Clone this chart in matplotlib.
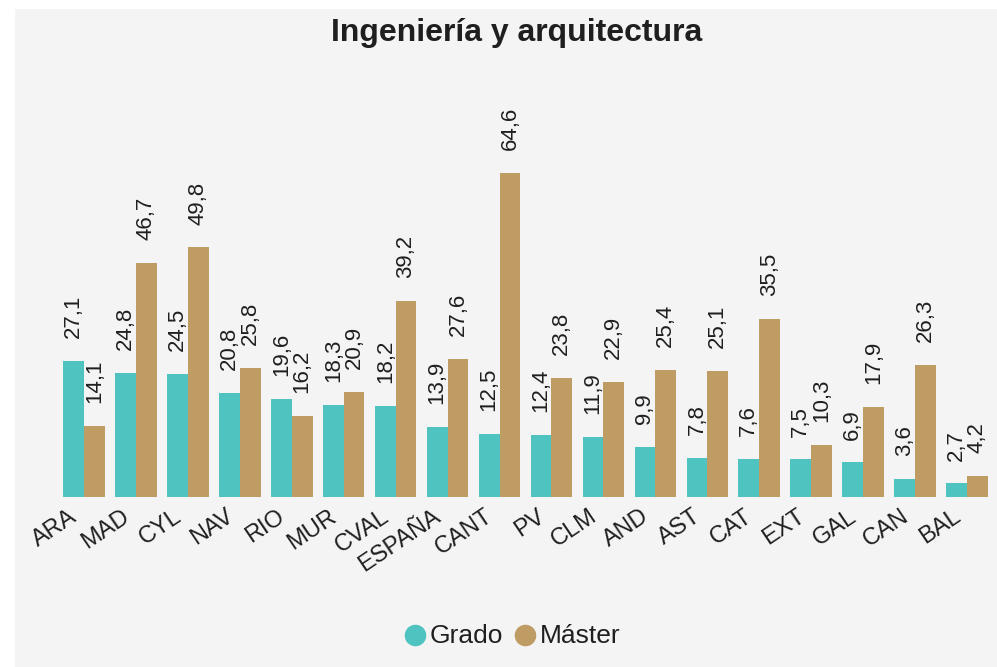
import matplotlib
matplotlib.use('Agg')
import matplotlib.pyplot as plt
import matplotlib.transforms as mtransforms
from matplotlib.patches import Rectangle
from matplotlib.lines import Line2D
import numpy as np

# data
regions = ['ARA', 'MAD', 'CYL', 'NAV', 'RIO', 'MUR', 'CVAL', 'ESPAÑA', 'CANT',
           'PV', 'CLM', 'AND', 'AST', 'CAT', 'EXT', 'GAL', 'CAN', 'BAL']
grado = [27.1, 24.8, 24.5, 20.8, 19.6, 18.3, 18.2, 13.9, 12.5,
         12.4, 11.9, 9.9, 7.8, 7.6, 7.5, 6.9, 3.6, 2.7]
master = [14.1, 46.7, 49.8, 25.8, 16.2, 20.9, 39.2, 27.6, 64.6,
          23.8, 22.9, 25.4, 25.1, 35.5, 10.3, 17.9, 26.3, 4.2]
series_names = ['Grado', 'Máster']

TEAL = '#4ec3bf'
TAN = '#be9c64'
BG = '#f4f4f4'
TXT = '#1f1f1f'

plt.rcParams['font.family'] = ['Liberation Sans', 'DejaVu Sans']

W, H = 997, 667


def fmt(v):
    return f"{v:.1f}".replace('.', ',')


def plot_chart():
    fig = plt.figure(figsize=(W / 100, H / 100), dpi=100)
    fig.patch.set_facecolor('white')
    # grey panel behind everything
    fig.add_artist(Rectangle((15 / W, 0), 1 - 15 / W, 1 - 9 / H,
                             transform=fig.transFigure, facecolor=BG,
                             edgecolor='none', zorder=-10))

    ax = fig.add_axes([58 / W, 170 / H, 935 / W, 437 / H])
    ax.set_facecolor('none')
    x = np.arange(len(regions))
    w = 0.4
    b1 = ax.bar(x - w / 2, grado, width=w, color=TEAL, linewidth=0)
    b2 = ax.bar(x + w / 2, master, width=w, color=TAN, linewidth=0)
    ax.set_xlim(-0.5, len(regions) - 0.5)
    ax.set_ylim(0, 437 / 5.011)

    for bars, vals in ((b1, grado), (b2, master)):
        for bar, v in zip(bars, vals):
            ax.annotate(fmt(v), (bar.get_x() + bar.get_width() / 2, v),
                        xytext=(0, 16.5), textcoords='offset points',
                        rotation=90, ha='center', va='bottom',
                        fontsize=16, color=TXT)

    ax.set_xticks(x)
    ax.set_xticklabels(regions, rotation=34, ha='right', rotation_mode='anchor',
                       fontsize=17, color=TXT)
    ax.tick_params(axis='x', length=0, pad=6)
    shift = mtransforms.ScaledTranslation(-0.15, 0, fig.dpi_scale_trans)
    for lab in ax.get_xticklabels():
        lab.set_transform(lab.get_transform() + shift)
    ax.set_yticks([])
    for s in ax.spines.values():
        s.set_visible(False)

    fig.text(517 / W, 1 - 41 / H, 'Ingeniería y arquitectura', ha='center',
             va='baseline', fontsize=23, fontweight='bold', color=TXT)

    # legend drawn by hand
    for cx, tx, col, name in ((415, 430, TEAL, series_names[0]),
                              (525, 540, TAN, series_names[1])):
        fig.add_artist(Line2D([cx / W], [1 - 635 / H], marker='o', markersize=14.5,
                              color=col, linestyle='none', transform=fig.transFigure))
        fig.text(tx / W, 1 - 643 / H, name, ha='left', va='baseline',
                 fontsize=19, color=TXT)

    fig.savefig('out.png', dpi=100)


def main():
    plot_chart()


if __name__ == "__main__":
    main()
